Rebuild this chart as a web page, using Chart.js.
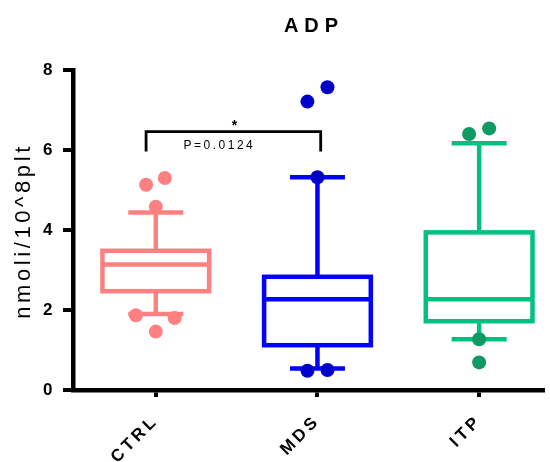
<!DOCTYPE html>
<html>
<head>
<meta charset="utf-8">
<script src="https://cdn.jsdelivr.net/npm/chart.js@4.4.0/dist/chart.umd.min.js"></script>
<style>
  html, body { margin: 0; padding: 0; background: #fff; }
  canvas { display: block; }
</style>
</head>
<body>
<canvas id="adpChart" width="550" height="462"></canvas>
<script>
// Groups and box statistics
const categories = ['CTRL', 'MDS', 'ITP'];
const q1 = [2.47, 1.12, 1.72];
const median = [3.14, 2.27, 2.27];
const q3 = [3.48, 2.83, 3.94];
const whiskerLow = [1.90, 0.54, 1.27];
const whiskerHigh = [4.44, 5.32, 6.17];

// Points outside the whiskers, with small horizontal jitter
const ctrlPoints = [5.13, 5.30, 4.58, 1.87, 1.80, 1.46];
const ctrlJitter = [-0.06, 0.056, 0, -0.123, 0.117, 0];
const mdsPoints = [7.21, 7.57, 5.32, 0.48, 0.50];
const mdsJitter = [-0.062, 0.062, 0, -0.062, 0.062];
const itpPoints = [6.40, 6.54, 1.27, 0.69];
const itpJitter = [-0.062, 0.062, 0, 0];

const yTicks = [0, 2, 4, 6, 8];

// Significance bracket CTRL vs MDS
const bracketX = [0.94, 2.02];
const bracketY = [5.96, 6.46];
const bracketStar = '*';
const bracketText = 'P=0.0124';

const boxColors = ['#ff8080', '#0000ff', '#00c27e'];
const pointColors = ['#ff8080', '#0000cc', '#0e9a62'];

function strokeLine(ctx, x1, y1, x2, y2) {
  ctx.beginPath();
  ctx.moveTo(x1, y1);
  ctx.lineTo(x2, y2);
  ctx.stroke();
}

const boxPlotPlugin = {
  id: 'boxPlot',
  beforeDraw(chart) {
    // spaced lettering for the axis labels, like the original
    chart.ctx.letterSpacing = '3.5px';
  },
  beforeDatasetsDraw(chart) {
    const { ctx, scales: { x, y } } = chart;
    const boxHalf = 0.33;
    const capHalf = 0.17;
    categories.forEach((cat, i) => {
      const cx = x.getPixelForValue(i + 1);
      const left = x.getPixelForValue(i + 1 - boxHalf);
      const right = x.getPixelForValue(i + 1 + boxHalf);
      const capL = x.getPixelForValue(i + 1 - capHalf);
      const capR = x.getPixelForValue(i + 1 + capHalf);
      const top = y.getPixelForValue(q3[i]);
      const bottom = y.getPixelForValue(q1[i]);
      const med = y.getPixelForValue(median[i]);
      const hi = y.getPixelForValue(whiskerHigh[i]);
      const lo = y.getPixelForValue(whiskerLow[i]);
      ctx.save();
      ctx.strokeStyle = boxColors[i];
      ctx.lineWidth = 4.5;
      strokeLine(ctx, cx, top, cx, hi);
      strokeLine(ctx, cx, bottom, cx, lo);
      strokeLine(ctx, capL, hi, capR, hi);
      strokeLine(ctx, capL, lo, capR, lo);
      ctx.strokeRect(left, top, right - left, bottom - top);
      strokeLine(ctx, left, med, right, med);
      ctx.restore();
    });
  },
  afterDatasetsDraw(chart) {
    const { ctx, chartArea, scales: { x, y } } = chart;
    ctx.save();
    // bracket
    const bl = x.getPixelForValue(bracketX[0]);
    const br = x.getPixelForValue(bracketX[1]);
    const bt = y.getPixelForValue(bracketY[1]);
    const bb = y.getPixelForValue(bracketY[0]);
    ctx.strokeStyle = '#000';
    ctx.lineWidth = 2.8;
    ctx.beginPath();
    ctx.moveTo(bl, bb);
    ctx.lineTo(bl, bt);
    ctx.lineTo(br, bt);
    ctx.lineTo(br, bb);
    ctx.stroke();

    ctx.fillStyle = '#000';
    ctx.textAlign = 'center';
    ctx.textBaseline = 'middle';
    ctx.letterSpacing = '0px';
    ctx.font = 'bold 14px "Liberation Sans", Arial, sans-serif';
    ctx.fillText(bracketStar, (bl + br) / 2 + 1, bt - 5);
    ctx.letterSpacing = '2.5px';
    ctx.font = '12px "Liberation Sans", Arial, sans-serif';
    ctx.fillText(bracketText, (bl + br) / 2 - 14, bt + 14);

    // title
    ctx.letterSpacing = '6px';
    ctx.font = 'bold 20px "Liberation Sans", Arial, sans-serif';
    ctx.fillText('ADP', (chartArea.left + chartArea.right) / 2 + 6, 26);

    // y axis title
    ctx.translate(24, (chartArea.top + chartArea.bottom) / 2 + 3);
    ctx.rotate(-Math.PI / 2);
    ctx.letterSpacing = '3.6px';
    ctx.font = '22px "Liberation Sans", Arial, sans-serif';
    ctx.fillText('nmoli/10^8plt', 2, 0);
    ctx.restore();
  }
};

function pointSet(label, values, jitter, idx) {
  return {
    label: label,
    data: values.map((v, k) => ({ x: idx + 1 + jitter[k], y: v })),
    backgroundColor: pointColors[idx],
    borderWidth: 0,
    pointRadius: 7,
    pointHoverRadius: 7
  };
}

const ctx = document.getElementById('adpChart').getContext('2d');
new Chart(ctx, {
  type: 'scatter',
  data: {
    datasets: [
      pointSet(categories[0], ctrlPoints, ctrlJitter, 0),
      pointSet(categories[1], mdsPoints, mdsJitter, 1),
      pointSet(categories[2], itpPoints, itpJitter, 2)
    ]
  },
  options: {
    responsive: false,
    animation: false,
    layout: { padding: { top: 70, right: 0, left: 0, bottom: 0 } },
    plugins: {
      legend: { display: false },
      tooltip: { enabled: false },
      title: { display: false }
    },
    scales: {
      x: {
        type: 'linear',
        min: 0.488,
        max: 3.395,
        afterBuildTicks(scale) {
          scale.ticks = categories.map((c, i) => ({ value: i + 1 }));
        },
        afterFit(scale) { scale.height = 72; },
        border: { display: true, color: '#000', width: 4.5 },
        grid: {
          drawOnChartArea: false,
          drawTicks: true,
          tickLength: 7,
          lineWidth: 4,
          color: '#000'
        },
        ticks: {
          autoSkip: false,
          minRotation: 45,
          maxRotation: 45,
          padding: 14,
          color: '#000',
          font: { family: '"Liberation Sans", Arial, sans-serif', size: 17, weight: 'bold' },
          callback: (v) => categories[v - 1] || ''
        }
      },
      y: {
        min: 0,
        max: 8,
        afterBuildTicks(scale) {
          scale.ticks = yTicks.map(v => ({ value: v }));
        },
        afterFit(scale) { scale.width = 73; },
        border: { display: true, color: '#000', width: 4.5 },
        grid: {
          drawOnChartArea: false,
          drawTicks: true,
          tickLength: 10,
          lineWidth: 4,
          color: '#000'
        },
        ticks: {
          padding: 7,
          color: '#000',
          font: { family: '"Liberation Sans", Arial, sans-serif', size: 17, weight: 'bold' }
        }
      }
    }
  },
  plugins: [boxPlotPlugin]
});
</script>
</body>
</html>
